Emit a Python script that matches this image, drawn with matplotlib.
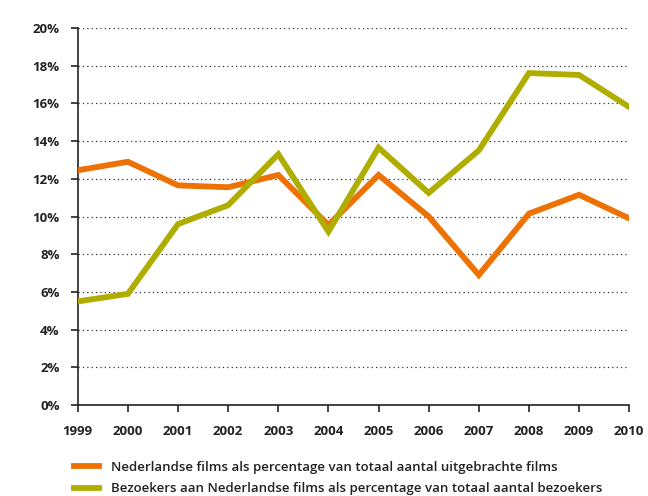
import matplotlib
matplotlib.use("Agg")
import matplotlib.pyplot as plt
from matplotlib.ticker import FuncFormatter, MultipleLocator

years = [1999, 2000, 2001, 2002, 2003, 2004, 2005, 2006, 2007, 2008, 2009, 2010]
films_pct = [12.45, 12.9, 11.65, 11.55, 12.2, 9.55, 12.2, 10.0, 6.9, 10.15, 11.15, 9.9]
visitors_pct = [5.5, 5.9, 9.6, 10.6, 13.3, 9.2, 13.65, 11.25, 13.5, 17.6, 17.5, 15.8]
labels = ["Nederlandse films als percentage van totaal aantal uitgebrachte films",
          "Bezoekers aan Nederlandse films als percentage van totaal aantal bezoekers"]
orange = "#EE7203"
green = "#AFAE00"

plt.rcParams['font.family'] = ['Open Sans', 'DejaVu Sans']

fig = plt.figure(figsize=(6.48, 4.96), dpi=100)
ax = fig.add_axes([0.12, 0.183, 0.851, 0.761])

ax.plot(years, films_pct, color=orange, lw=4.2, solid_joinstyle='miter', label=labels[0], zorder=3)
ax.plot(years, visitors_pct, color=green, lw=4.2, solid_joinstyle='miter', label=labels[1], zorder=3)

ax.set_xlim(1999, 2010)
ax.set_ylim(0, 20)
ax.yaxis.set_major_locator(MultipleLocator(2))
ax.yaxis.set_major_formatter(FuncFormatter(lambda v, p: f"{int(round(v))}%"))
ax.set_xticks(years)
ax.set_xticklabels([str(y) for y in years])

ax.grid(axis='y', linestyle=(0, (1, 2.5)), color='#333333', lw=0.9)
ax.set_axisbelow(True)
for s in ['top', 'right']:
    ax.spines[s].set_visible(False)
for s in ['left', 'bottom']:
    ax.spines[s].set_color('#222222')
    ax.spines[s].set_linewidth(1.2)
ax.tick_params(axis='y', length=5, width=1.2, color='#222222', pad=8, labelsize=9.5)
ax.tick_params(axis='x', length=5, width=1.2, color='#222222', pad=9, labelsize=9.5)
for t in ax.get_xticklabels() + ax.get_yticklabels():
    t.set_fontweight('bold')
    t.set_color('#222222')

leg = fig.legend(loc='upper left', bbox_to_anchor=(0.106, 0.082), frameon=False,
                 handlelength=1.9, handletextpad=0.9, labelspacing=0.65,
                 fontsize=9.5, borderaxespad=0)
for t in leg.get_texts():
    t.set_color('#222222')
    t.set_fontweight('semibold')

fig.savefig("out.png", dpi=100)
